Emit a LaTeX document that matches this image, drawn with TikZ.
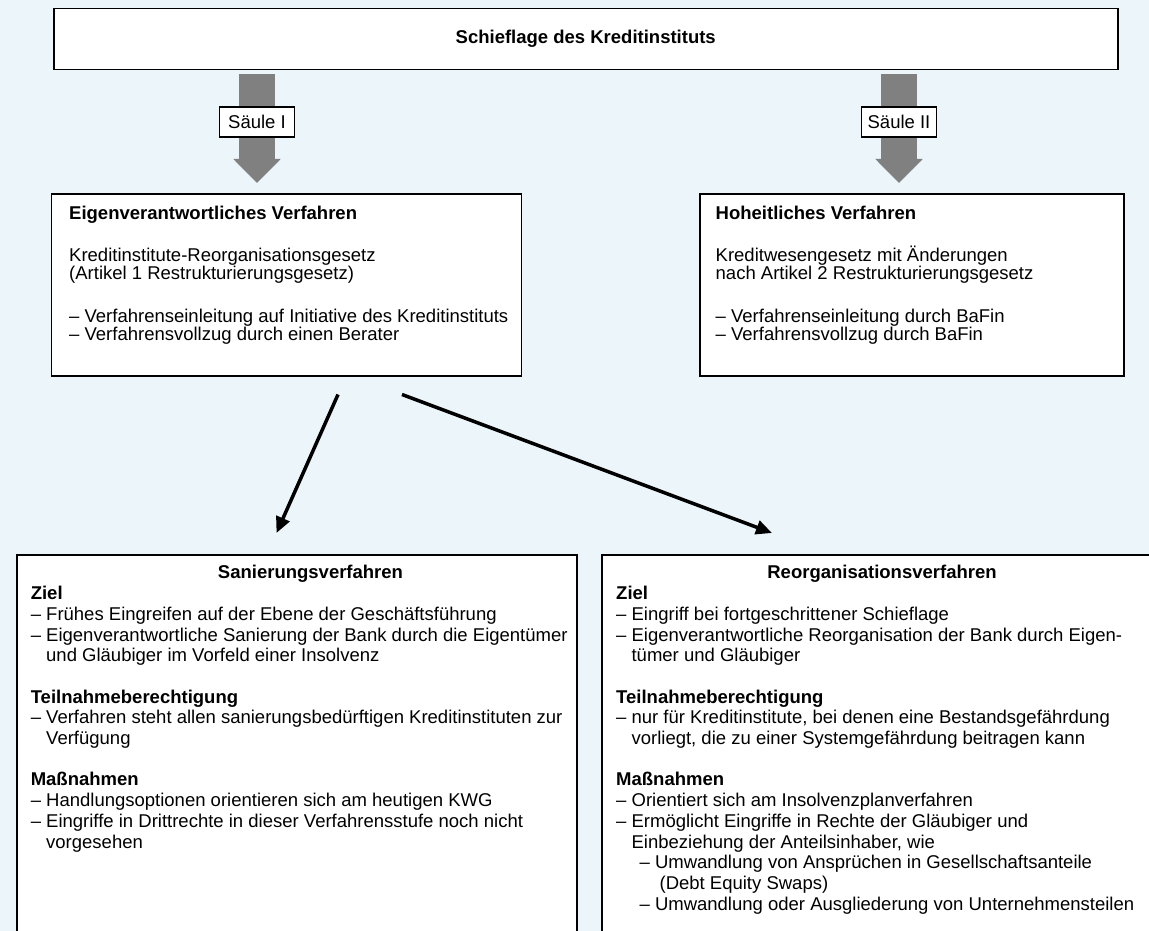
\documentclass[tikz,border=0pt]{standalone}
\usepackage{fontspec}
\setmainfont{Liberation Sans}
\usetikzlibrary{calc,positioning,arrows.meta}
\pgfdeclarelayer{back}
\pgfsetlayers{back,main}
\definecolor{hintergrund}{RGB}{236,245,249}
\definecolor{saeulengrau}{RGB}{128,128,128}
\newcommand{\einzug}{\hspace*{15.4pt}}
\setlength{\lineskiplimit}{-20pt}

\begin{document}
\begin{tikzpicture}[x=1pt,y=-1pt,
    kasten/.style={rectangle,draw=black,line width=1.5pt,fill=white,anchor=north west,inner sep=0pt},
    inhalt/.style={anchor=north west,align=left,inner sep=0pt,font=\fontsize{18.5pt}{18.3pt}\selectfont},
    inhalt_unten/.style={inhalt,font=\fontsize{18.5pt}{20.7pt}\selectfont},
    titel/.style={anchor=base,inner sep=0pt,font=\bfseries\fontsize{18.5pt}{20pt}\selectfont},
    saeule/.style={rectangle,draw=black,line width=1.2pt,fill=white,minimum width=75pt,minimum height=30pt,inner sep=0pt,font=\fontsize{18.5pt}{20pt}\selectfont},
    saeulenpfeil/.style={draw=saeulengrau,line width=36pt,-{Triangle[width=46pt,length=24pt]}},
    pfeil/.style={draw=black,line width=3.5pt,-{Triangle[width=14pt,length=16pt]}}]

  \useasboundingbox (0,0) rectangle (1149,931);
  \clip (0,0) rectangle (1149,931);
  \begin{pgfonlayer}{back}
    \fill[hintergrund] (0,0) rectangle (1149,931);
  \end{pgfonlayer}

  %% Kopf
  \node (schieflage) [kasten,minimum width=1064pt,minimum height=61pt,font=\bfseries\fontsize{18.5pt}{20pt}\selectfont] at (53,8) {Schieflage des Kreditinstituts};

  %% Saeule I und II
  \node (eigen) [kasten,minimum width=470pt,minimum height=182pt] at (50.5,193) {};
  \node (eigen_text) [inhalt] at ($(eigen.north west)+(18.5,12.5)$) {\textbf{Eigenverantwortliches Verfahren}\\[24pt]
    Kreditinstitute-Reorganisationsgesetz\\
    (Artikel 1 Restrukturierungsgesetz)\\[24pt]
    – Verfahrenseinleitung auf Initiative des Kreditinstituts\\
    – Verfahrensvollzug durch einen Berater};

  \node (hoheit) [kasten,minimum width=424pt,minimum height=182pt] at (699,193) {};
  \node (hoheit_text) [inhalt] at ($(hoheit.north west)+(16.5,12.5)$) {\textbf{Hoheitliches Verfahren}\\[24pt]
    Kreditwesengesetz mit Änderungen\\
    nach Artikel 2 Restrukturierungsgesetz\\[24pt]
    – Verfahrenseinleitung durch BaFin\\
    – Verfahrensvollzug durch BaFin};

  \foreach \i/\x/\lab/\ziel in {1/257/{Säule I}/eigen,2/899/{Säule II}/hoheit}
           {
             \node (saeule_\i) [saeule] at (\x,122) {\lab};
             \begin{pgfonlayer}{back}
               \draw[saeulenpfeil] ($(schieflage.south -| saeule_\i)+(0,4)$) -- ($(\ziel.north -| saeule_\i)+(0,-10)$);
             \end{pgfonlayer}
           }

  %% Verfahrensstufen
  \node (sanierung) [kasten,minimum width=560pt,minimum height=400pt] at (16,554) {};
  \node (sanierung_titel) [titel] at ($(sanierung.north west)+(294.5,24.5)$) {Sanierungsverfahren};
  \node (sanierung_text) [inhalt_unten] at ($(sanierung.north west)+(14.6,32)$) {\textbf{Ziel}\\
    – Frühes Eingreifen auf der Ebene der Geschäftsführung\\
    – Eigenverantwortliche Sanierung der Bank durch die Eigentümer\\
    \einzug und Gläubiger im Vorfeld einer Insolvenz\\[20.7pt]
    \textbf{Teilnahmeberechtigung}\\
    – Verfahren steht allen sanierungsbedürftigen Kreditinstituten zur\\
    \einzug Verfügung\\[20.7pt]
    \textbf{Maßnahmen}\\
    – Handlungsoptionen orientieren sich am heutigen KWG\\
    – Eingriffe in Drittrechte in dieser Verfahrensstufe noch nicht\\
    \einzug vorgesehen};

  \node (reorg) [kasten,minimum width=580pt,minimum height=400pt] at (601,554) {};
  \node (reorg_titel) [titel] at ($(reorg.north west)+(281,24.5)$) {Reorganisationsverfahren};
  \node (reorg_text) [inhalt_unten] at ($(reorg.north west)+(15,32)$) {\textbf{Ziel}\\
    – Eingriff bei fortgeschrittener Schieflage\\
    – Eigenverantwortliche Reorganisation der Bank durch Eigen-\\
    \einzug tümer und Gläubiger\\[20.7pt]
    \textbf{Teilnahmeberechtigung}\\
    – nur für Kreditinstitute, bei denen eine Bestandsgefährdung\\
    \einzug vorliegt, die zu einer Systemgefährdung beitragen kann\\[20.7pt]
    \textbf{Maßnahmen}\\
    – Orientiert sich am Insolvenzplanverfahren\\
    – Ermöglicht Eingriffe in Rechte der Gläubiger und\\
    \einzug Einbeziehung der Anteilsinhaber, wie\\
    \einzug\hspace*{8pt}– Umwandlung von Ansprüchen in Gesellschaftsanteile\\
    \einzug\hspace*{28pt}(Debt Equity Swaps)\\
    \einzug\hspace*{8pt}– Umwandlung oder Ausgliederung von Unternehmensteilen};

  \draw[pfeil] ($(eigen.south west)+(287.5,18)$) -- ($(sanierung.north west)+(260.5,-21)$);
  \draw[pfeil] ($(eigen.south west)+(351.5,18)$) -- ($(reorg.north west)+(171,-21)$);

\end{tikzpicture}
\end{document}
